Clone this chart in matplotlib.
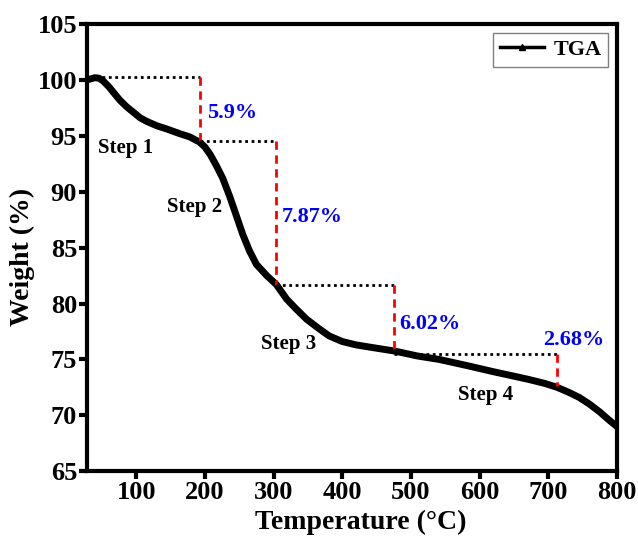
import numpy as np
import matplotlib.pyplot as plt
from matplotlib.lines import Line2D

plt.rcParams['font.family'] = ['Liberation Serif', 'DejaVu Serif']
plt.rcParams['font.weight'] = 'bold'

# TGA curve
temp = [28, 34, 40, 46, 52, 60, 68, 76, 86, 96, 106, 115, 130, 145, 163, 178, 192,
        200, 208, 217, 226, 236, 245, 255, 265, 275, 290, 304, 319, 333, 348, 365,
        381, 400, 420, 445, 476, 510, 541, 585, 620, 650, 672, 695, 713, 730, 745,
        760, 775, 788, 800]
weight = [100.0, 100.1, 100.2, 100.15, 99.9, 99.4, 98.8, 98.2, 97.6, 97.1, 96.6, 96.3,
          95.9, 95.6, 95.2, 94.9, 94.45, 94.0, 93.3, 92.3, 91.2, 89.6, 88.0, 86.2, 84.7,
          83.5, 82.5, 81.7, 80.4, 79.5, 78.6, 77.8, 77.1, 76.6, 76.3, 76.05, 75.75, 75.3,
          75.0, 74.4, 73.9, 73.5, 73.2, 72.85, 72.5, 72.05, 71.6, 71.0, 70.3, 69.6, 69.0]

# step marker lines
step_x0 = [50, 193, 303, 476]
step_x1 = [193, 303, 476, 713]
step_top = [100.3, 94.5, 81.7, 75.5]
step_bot = [94.5, 81.7, 75.7, 72.6]

pct_labels = ['5.9%', '7.87%', '6.02%', '2.68%']
pct_pos = [(203, 97.0), (312, 87.7), (483, 78.2), (693, 76.7)]
step_labels = ['Step 1', 'Step 2', 'Step 3', 'Step 4']
step_pos = [(85, 93.9), (185, 88.6), (322, 76.4), (608, 71.8)]

fig = plt.figure(figsize=(6.38, 5.46), dpi=100)
ax = fig.add_axes([0.136, 0.137, 0.831, 0.819])

ax.plot(temp, weight, 'k-', lw=5, solid_capstyle='round', solid_joinstyle='round')

for x0, x1, yt, yb in zip(step_x0, step_x1, step_top, step_bot):
    ax.plot([x0, x1], [yt, yt], color='k', ls=(0, (1, 1.3)), lw=2)
    ax.plot([x1, x1], [yt, yb], color='red', ls=(0, (3, 2)), lw=2)

for t, (x, y) in zip(pct_labels, pct_pos):
    ax.text(x, y, t, color='blue', fontsize=16, fontweight='bold', va='center', ha='left')
for t, (x, y) in zip(step_labels, step_pos):
    ax.text(x, y, t, color='k', fontsize=15, fontweight='bold', va='center', ha='center')

ax.set_xlim(28, 800)
ax.set_ylim(65, 105)
ax.set_xticks([100, 200, 300, 400, 500, 600, 700, 800])
ax.set_yticks([65, 70, 75, 80, 85, 90, 95, 100, 105])
ax.tick_params(direction='out', length=6, width=3, labelsize=19, pad=1)
for lab in ax.get_xticklabels() + ax.get_yticklabels():
    lab.set_fontweight('bold')
for s in ax.spines.values():
    s.set_linewidth(3)

ax.set_xlabel('Temperature (°C)', fontsize=20, fontweight='bold', labelpad=4, x=0.517)
ax.set_ylabel('Weight (%)', fontsize=20, fontweight='bold', labelpad=2, y=0.48)

# legend: line with a small triangle in the middle
h = Line2D([0], [0], color='k', lw=2.5, marker='^', markersize=4)
leg = ax.legend([h], ['TGA'], loc='upper right', fancybox=False,
                edgecolor='gray', framealpha=1, handlelength=2.0, borderpad=0.3,
                handletextpad=0.4, borderaxespad=0.4, prop={'weight': 'bold', 'size': 16})
leg.get_frame().set_linewidth(1)

fig.savefig('out.png', dpi=100)
